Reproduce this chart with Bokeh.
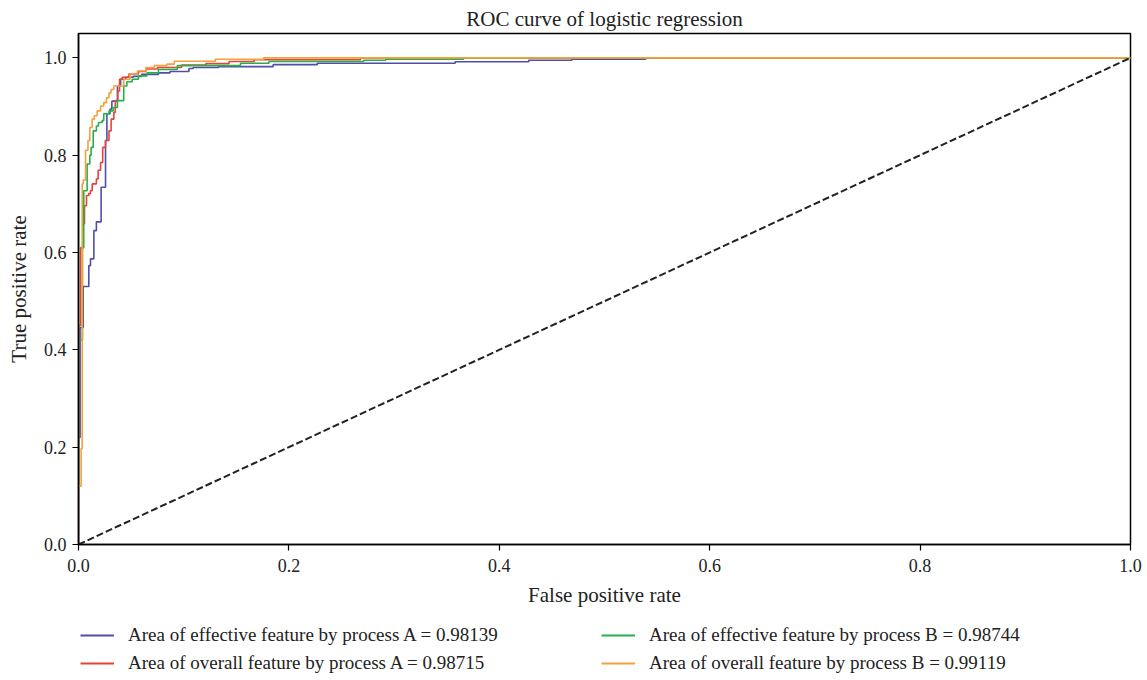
from bokeh.plotting import figure
from bokeh.layouts import column
from bokeh.models import Legend, LegendItem, FixedTicker, Range1d, CustomJSTickFormatter
from bokeh.embed import file_html
from bokeh.resources import INLINE

# ---- data: ROC step corners (fpr where the curve jumps, tpr reached) ----
blue_fpr = [0.0, 0.0, 0.0015, 0.0045, 0.0098, 0.0114, 0.0146, 0.017, 0.0215, 0.0257, 0.027, 0.030,
            0.0317, 0.037, 0.040, 0.045, 0.052, 0.060, 0.076, 0.087, 0.105, 0.109, 0.133, 0.185,
            0.227, 0.358, 0.428, 0.469, 0.539, 1.0]
blue_tpr = [0.0, 0.22, 0.446, 0.53, 0.573, 0.587, 0.645, 0.663, 0.734, 0.83, 0.885, 0.895,
            0.911, 0.942, 0.956, 0.960, 0.962, 0.966, 0.969, 0.972, 0.978, 0.980, 0.982, 0.986,
            0.989, 0.992, 0.995, 0.997, 1.0, 1.0]

red_fpr = [0.0, 0.0, 0.002, 0.0045, 0.0057, 0.0076, 0.0098, 0.0114, 0.013, 0.017, 0.0187, 0.021,
           0.023, 0.0257, 0.029, 0.031, 0.0336, 0.035, 0.0374, 0.039, 0.0415, 0.048, 0.057, 0.064,
           0.075, 0.098, 0.121, 0.143, 0.167, 0.268, 1.0]
red_tpr = [0.0, 0.45, 0.61, 0.659, 0.696, 0.717, 0.721, 0.727, 0.741, 0.751, 0.769, 0.785,
           0.816, 0.83, 0.85, 0.874, 0.888, 0.912, 0.932, 0.956, 0.960, 0.967, 0.972, 0.977,
           0.980, 0.985, 0.988, 0.9925, 0.996, 1.0, 1.0]

green_fpr = [0.0, 0.0, 0.0038, 0.005, 0.0082, 0.0108, 0.012, 0.014, 0.017, 0.019, 0.0225, 0.024,
             0.029, 0.033, 0.037, 0.043, 0.046, 0.051, 0.057, 0.065, 0.076, 0.094, 0.154, 0.181,
             0.271, 0.292, 0.366, 1.0]
green_tpr = [0.0, 0.42, 0.61, 0.727, 0.782, 0.80, 0.816, 0.85, 0.86, 0.867, 0.871, 0.885,
             0.891, 0.898, 0.912, 0.942, 0.951, 0.956, 0.963, 0.969, 0.976, 0.984, 0.989, 0.9925,
             0.995, 0.997, 1.0, 1.0]

orange_fpr = [0.0, 0.0, 0.0025, 0.0035, 0.0045, 0.0067, 0.009, 0.0108, 0.013, 0.015, 0.0177, 0.021,
              0.024, 0.0266, 0.029, 0.031, 0.0336, 0.043, 0.049, 0.056, 0.064, 0.072, 0.084, 0.091,
              0.130, 0.176, 1.0]
orange_tpr = [0.0, 0.12, 0.197, 0.741, 0.749, 0.81, 0.83, 0.857, 0.874, 0.881, 0.891, 0.901,
              0.908, 0.918, 0.928, 0.935, 0.942, 0.956, 0.967, 0.973, 0.980, 0.984, 0.987, 0.993,
              0.997, 1.0, 1.0]

chance_x = [0.0, 1.0]
chance_y = [0.0, 1.0]

labels = ["Area of effective feature by process A = 0.98139",
          "Area of overall feature by process A = 0.98715",
          "Area of effective feature by process B = 0.98744",
          "Area of overall feature by process B = 0.99119"]
colors = ["#4f4fa8", "#e8433a", "#27b04a", "#f6a03e"]
x_ticks = [0.0, 0.2, 0.4, 0.6, 0.8, 1.0]
y_ticks = [0.0, 0.2, 0.4, 0.6, 0.8, 1.0]

FONT = "Liberation Serif"
TXT = "#222222"
NAN = float("nan")


def staircase(xs, ys):
    sx, sy = [xs[0]], [ys[0]]
    for i in range(1, len(xs)):
        sx.append(xs[i]); sy.append(ys[i - 1])
        sx.append(xs[i]); sy.append(ys[i])
    return sx, sy


p = figure(width=1147, height=612, output_backend="svg", toolbar_location=None,
           x_range=Range1d(0, 1.0), y_range=Range1d(0, 1.05),
           min_border_left=78, min_border_right=17, min_border_top=33, min_border_bottom=68)

p.title.text = "ROC curve of logistic regression"
p.title.align = "center"
p.title.text_font = FONT
p.title.text_font_style = "normal"
p.title.text_font_size = "21px"
p.title.text_color = TXT
p.title.offset = 0
p.title.standoff = 6

p.xgrid.visible = False
p.ygrid.visible = False
p.outline_line_color = "black"
p.outline_line_width = 1.5
p.outline_line_alpha = 1.0

fmt = CustomJSTickFormatter(code="return tick.toFixed(1);")
for ax, lab, ticks in ((p.xaxis[0], "False positive rate", x_ticks), (p.yaxis[0], "True positive rate", y_ticks)):
    ax.axis_label = lab
    ax.ticker = FixedTicker(ticks=ticks)
    ax.formatter = fmt
    ax.axis_label_text_font = FONT
    ax.axis_label_text_font_style = "normal"
    ax.axis_label_text_font_size = "21px"
    ax.axis_label_text_color = TXT
    ax.major_label_text_font = FONT
    ax.major_label_text_font_size = "18px"
    ax.major_label_text_color = TXT
    ax.major_tick_out = 6
    ax.major_tick_in = 0
    ax.minor_tick_out = 0
    ax.minor_tick_in = 0
    ax.axis_line_width = 1.5
    ax.major_tick_line_width = 1.2

p.xaxis[0].major_label_standoff = 8
p.yaxis[0].major_label_standoff = 6
p.xaxis[0].axis_label_standoff = 8
p.yaxis[0].axis_label_standoff = 10

for (fx, ty), col in zip([(blue_fpr, blue_tpr), (red_fpr, red_tpr), (green_fpr, green_tpr), (orange_fpr, orange_tpr)], colors):
    sx, sy = staircase(fx, ty)
    p.line(sx, sy, line_color=col, line_width=1.6)

p.line(chance_x, chance_y, line_color="#222222", line_width=2, line_dash="7 3")

# ---- legend strip below the chart (frame is aligned with the chart's frame) ----
q = figure(width=1147, height=64, output_backend="svg", toolbar_location=None,
           x_axis_type=None, y_axis_type=None, min_border=0,
           x_range=Range1d(0, 1), y_range=Range1d(0, 1))
q.outline_line_color = None
q.xgrid.visible = False
q.ygrid.visible = False
dummies = [q.line([NAN, NAN], [NAN, NAN], line_color=c, line_width=1.8) for c in colors]

leg_common = dict(border_line_alpha=0, background_fill_alpha=0, padding=0, margin=0,
                  glyph_width=34, glyph_height=22, label_height=22, spacing=6, label_standoff=14,
                  label_text_font=FONT, label_text_font_size="19px", label_text_color=TXT)
leg1 = Legend(items=[LegendItem(label=labels[0], renderers=[dummies[0]]),
                     LegendItem(label=labels[1], renderers=[dummies[1]])],
              location=(2, 2), **leg_common)
leg2 = Legend(items=[LegendItem(label=labels[2], renderers=[dummies[2]]),
                     LegendItem(label=labels[3], renderers=[dummies[3]])],
              location=(523, 2), **leg_common)
q.add_layout(leg1, "center")
q.add_layout(leg2, "center")

open("out.html", "w").write(file_html(column(p, q, spacing=0), INLINE))
